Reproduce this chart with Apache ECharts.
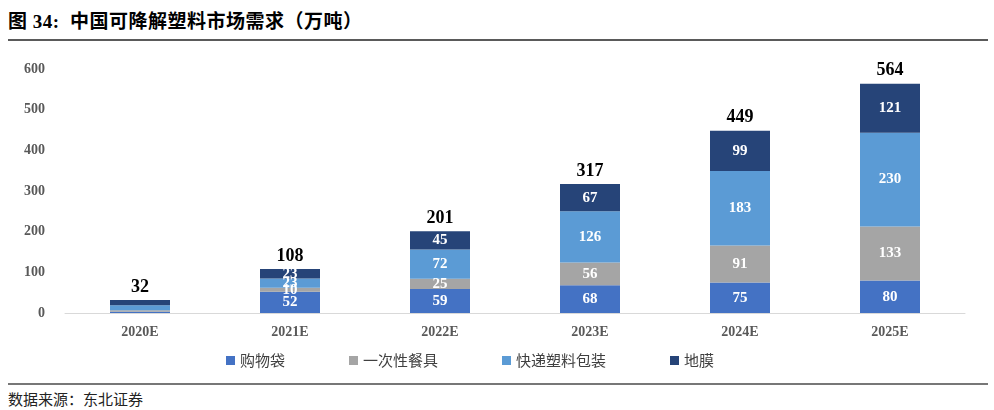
<!DOCTYPE html>
<html><head><meta charset="utf-8">
<script src="https://cdn.jsdelivr.net/npm/echarts@6/dist/echarts.min.js"></script>
<style>
html,body{margin:0;padding:0;background:#fff;}
#wrap{position:relative;width:994px;height:410px;}
#title{position:absolute;left:8px;top:6px;font-family:"Liberation Serif","Noto Sans CJK SC",serif;font-weight:bold;font-size:19px;color:#000;letter-spacing:0.5px;}
#topline{position:absolute;left:8px;top:39px;width:980px;height:2px;background:#5a5a5a;}
#botline{position:absolute;left:8px;top:383px;width:980px;height:2px;background:#777;}
#src{position:absolute;left:8px;top:388px;font-family:"Noto Sans CJK SC",sans-serif;font-size:15px;color:#222;}
#chart{position:absolute;left:0;top:45px;width:994px;height:336px;}
</style></head>
<body><div id="wrap">
<div id="title">图 34:&nbsp;&nbsp;中国可降解塑料市场需求（万吨）</div>
<div id="topline"></div>
<div id="chart"></div>
<div id="botline"></div>
<div id="src">数据来源：东北证券</div>
</div>
<script>
const categories = ['2020E','2021E','2022E','2023E','2024E','2025E'];
const shoppingBags = [3,52,59,68,75,80];
const tableware = [4,10,25,56,91,133];
const expressPackaging = [12,23,72,126,183,230];
const mulchFilm = [13,23,45,67,99,121];
const totals = [32,108,201,317,449,564];
const yTicks = [0,100,200,300,400,500,600];

const serif = '"Liberation Serif","Times New Roman",serif';
const chart = echarts.init(document.getElementById('chart'));
function inLabel(){
  return {show:true,position:'inside',color:'#fff',fontWeight:'bold',fontFamily:serif,fontSize:15,
    formatter:p=>p.dataIndex===0?'':p.value};
}
const mk=(name,data,color)=>({name,type:'bar',stack:'a',data,barWidth:60,itemStyle:{color},label:inLabel()});
const series=[
  mk('购物袋',shoppingBags,'#4472C4'),
  mk('一次性餐具',tableware,'#A5A5A5'),
  mk('快递塑料包装',expressPackaging,'#5B9BD5'),
  mk('地膜',mulchFilm,'#264478')
];
series.push({name:'total',type:'bar',stack:'a',data:totals.map(()=>0),barWidth:60,
  itemStyle:{color:'transparent'},
  label:{show:true,position:'top',color:'#000',fontWeight:'bold',fontFamily:serif,fontSize:18,distance:4,
    formatter:p=>totals[p.dataIndex]}});
chart.setOption({
  animation:false,
  grid:{left:65,right:29,top:24,bottom:68},
  legend:{data:['购物袋','一次性餐具','快递塑料包装','地膜'],bottom:8,left:221,itemWidth:9,itemHeight:9,itemGap:64,
    icon:'rect',textStyle:{fontFamily:'"Noto Sans CJK SC",sans-serif',fontSize:15,color:'#404040'}},
  xAxis:{type:'category',data:categories,axisLine:{lineStyle:{color:'#d9d9d9'}},axisTick:{show:false},
    axisLabel:{color:'#595959',fontWeight:'bold',fontFamily:serif,fontSize:14,margin:12}},
  yAxis:{type:'value',min:0,max:600,interval:100,splitLine:{show:false},axisLine:{show:false},axisTick:{show:false},
    axisLabel:{color:'#595959',fontWeight:'bold',fontFamily:serif,fontSize:14,margin:20,
      formatter:v=>yTicks.includes(v)?String(v):''}},
  series
});
</script></body></html>
